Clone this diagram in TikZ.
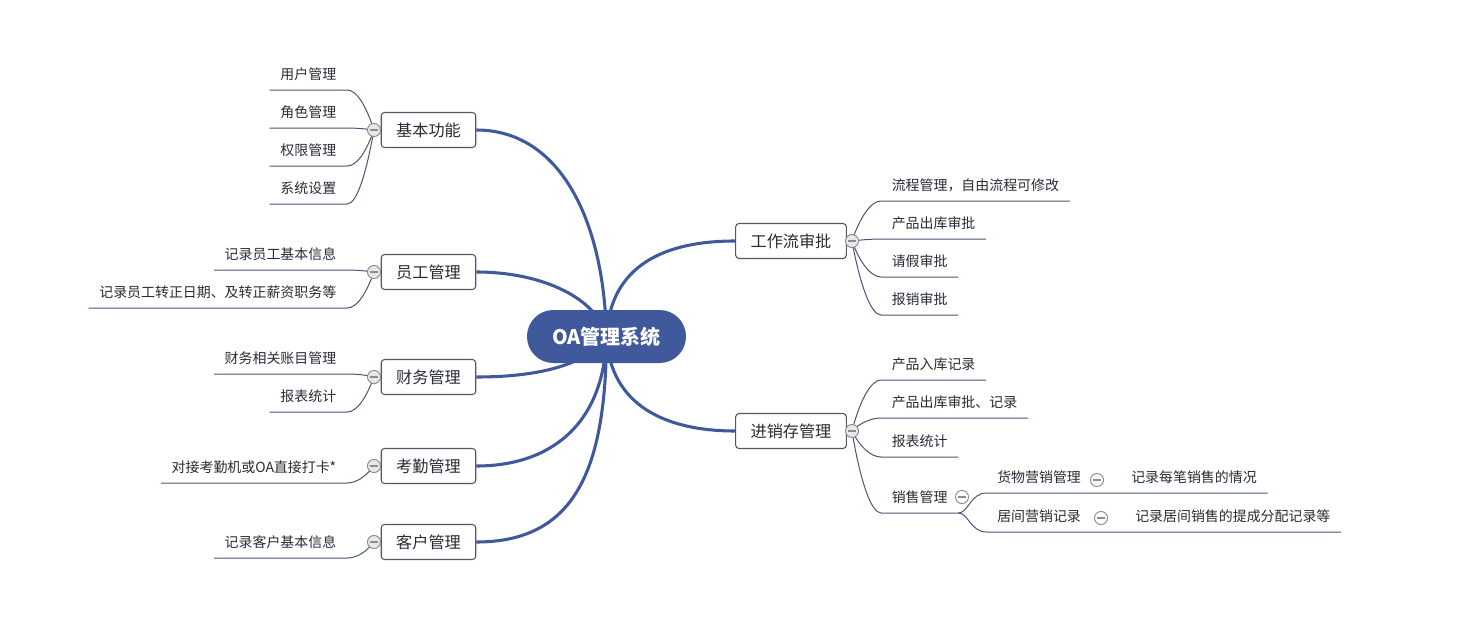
\documentclass[tikz,border=0pt]{standalone}
\usepackage{fontspec}
\setmainfont{Noto Sans CJK SC}
\pgfdeclarelayer{background}
\pgfsetlayers{background,main}
\definecolor{mainblue}{RGB}{64,88,156}
\definecolor{linec}{RGB}{72,86,116}
\definecolor{txtc}{RGB}{40,44,52}
\definecolor{boxc}{RGB}{80,88,104}
\definecolor{circc}{RGB}{140,140,140}
\begin{document}
\begin{tikzpicture}[x=0.75pt,y=-0.75pt,
 leaf/.style={font=\fontsize{10.45}{12}\selectfont, text=txtc, inner xsep=7.9pt, inner ysep=0pt, text height=9.5pt, text depth=7.6pt},
 lleaf/.style={leaf, anchor=south east},
 rleaf/.style={leaf, anchor=south west},
 branch/.style={draw=boxc, line width=0.8pt, fill=white, rounded corners=2.5pt, font=\fontsize{12.1}{14}\selectfont, text=txtc, inner xsep=11.25pt, inner ysep=0pt, minimum height=26.25pt},
 root/.style={fill=mainblue, rounded corners=19.8pt, minimum width=119.25pt, minimum height=39.75pt, text=white, font=\bfseries\fontsize{15}{18}\selectfont},
 fold/.style={circle, draw=circc, fill=gray!18, line width=0.7pt, minimum size=9.8pt, inner sep=0pt, path picture={\draw[circc, line width=0.9pt] ([xshift=-2.9pt]path picture bounding box.center) -- ([xshift=2.9pt]path picture bounding box.center);}},
 subfold/.style={fold, fill=white},
 mainline/.style={draw=mainblue, line width=2.3pt},
 leafline/.style={draw=linec, line width=0.75pt}
]
\useasboundingbox (0,0) rectangle (1465,639);

% root and branches
\node[root] (root) at (606.5,336.5) {OA管理系统};
\node[branch] (b1) at (428.5,130) {基本功能};
\node[branch] (b2) at (428.5,272) {员工管理};
\node[branch] (b3) at (428.5,377) {财务管理};
\node[branch] (b4) at (428.5,466) {考勤管理};
\node[branch] (b5) at (428.5,542) {客户管理};
\node[branch] (b6) at (791,241) {工作流审批};
\node[branch] (b7) at (791,431) {进销存管理};

% fold markers
\node[fold] (f1) at (374,130) {};
\node[fold] (f2) at (374,272) {};
\node[fold] (f3) at (374,377) {};
\node[fold] (f4) at (374,466) {};
\node[fold] (f5) at (374,542) {};
\node[fold] (f6) at (852,241) {};
\node[fold] (f7) at (852,431) {};
\node[subfold] (f8) at (962,497) {};
\node[subfold] (f9) at (1097,480) {};
\node[subfold] (f10) at (1101,518) {};

% left leaves
\node[lleaf] (l11) at (347,90) {用户管理};
\node[lleaf] (l12) at (347,128) {角色管理};
\node[lleaf] (l13) at (347,166) {权限管理};
\node[lleaf] (l14) at (347,204) {系统设置};
\node[lleaf] (l21) at (347,270) {记录员工基本信息};
\node[lleaf] (l22) at (347,308) {记录员工转正日期、及转正薪资职务等};
\node[lleaf] (l31) at (347,374) {财务相关账目管理};
\node[lleaf] (l32) at (347,412) {报表统计};
\node[lleaf] (l41) at (347,483) {对接考勤机或OA直接打卡*};
\node[lleaf] (l51) at (347,558) {记录客户基本信息};

% right leaves
\node[rleaf] (r11) at (881,201) {流程管理，自由流程可修改};
\node[rleaf] (r12) at (881,239) {产品出库审批};
\node[rleaf] (r13) at (881,277) {请假审批};
\node[rleaf] (r14) at (881,315) {报销审批};
\node[rleaf] (r21) at (881,380) {产品入库记录};
\node[rleaf] (r22) at (881,418) {产品出库审批、记录};
\node[rleaf] (r23) at (881,457) {报表统计};
\node[rleaf] (r24) at (881,513) {销售管理};
\node[rleaf] (s1) at (986.5,493) {货物营销管理};
\node[rleaf] (s1c) at (1120.5,493) {记录每笔销售的情况};
\node[rleaf] (s2) at (986.5,532) {居间营销记录};
\node[rleaf] (s2c) at (1124.5,532) {记录居间销售的提成分配记录等};

\begin{pgfonlayer}{background}
\fill[white] (0,0) rectangle (1465,639);
% main connectors
\draw[mainline] (root.center) .. controls (604,220) and (560,130) .. (b1.east);
\draw[mainline] (root.center) .. controls (598,300) and (545,272) .. (b2.east);
\draw[mainline] (root.center) .. controls (585,368) and (530,377) .. (b3.east);
\draw[mainline] (root.center) .. controls (604,425) and (550,466) .. (b4.east);
\draw[mainline] (root.center) .. controls (606,470) and (575,542) .. (b5.east);
\draw[mainline] (root.center) .. controls (610,265) and (665,241) .. (b6.west);
\draw[mainline] (root.center) .. controls (610,405) and (665,431) .. (b7.west);

% left leaf connectors
\draw[leafline] (f1.center) .. controls +(-8,-24) and +(10,0) .. (l11.south east) -- (l11.south west);
\draw[leafline] (f1.center) .. controls +(-8,-1) and +(10,0) .. (l12.south east) -- (l12.south west);
\draw[leafline] (f1.center) .. controls +(-8,22) and +(10,0) .. (l13.south east) -- (l13.south west);
\draw[leafline] (f1.center) .. controls +(-8,44) and +(10,0) .. (l14.south east) -- (l14.south west);
\draw[leafline] (f2.center) .. controls +(-8,-1) and +(10,0) .. (l21.south east) -- (l21.south west);
\draw[leafline] (f2.center) .. controls +(-8,22) and +(10,0) .. (l22.south east) -- (l22.south west);
\draw[leafline] (f3.center) .. controls +(-8,-2) and +(10,0) .. (l31.south east) -- (l31.south west);
\draw[leafline] (f3.center) .. controls +(-8,21) and +(10,0) .. (l32.south east) -- (l32.south west);
\draw[leafline] (f4.center) .. controls +(-8,10) and +(10,0) .. (l41.south east) -- (l41.south west);
\draw[leafline] (f5.center) .. controls +(-8,10) and +(10,0) .. (l51.south east) -- (l51.south west);

% right leaf connectors
\draw[leafline] (f6.center) .. controls +(8,-24) and +(-10,0) .. (r11.south west) -- (r11.south east);
\draw[leafline] (f6.center) .. controls +(8,-1) and +(-10,0) .. (r12.south west) -- (r12.south east);
\draw[leafline] (f6.center) .. controls +(8,22) and +(-10,0) .. (r13.south west) -- (r13.south east);
\draw[leafline] (f6.center) .. controls +(8,44) and +(-10,0) .. (r14.south west) -- (r14.south east);
\draw[leafline] (f7.center) .. controls +(8,-31) and +(-10,0) .. (r21.south west) -- (r21.south east);
\draw[leafline] (f7.center) .. controls +(8,-8) and +(-10,0) .. (r22.south west) -- (r22.south east);
\draw[leafline] (f7.center) .. controls +(8,16) and +(-10,0) .. (r23.south west) -- (r23.south east);
\draw[leafline] (f7.center) .. controls +(8,49) and +(-10,0) .. (r24.south west) -- (r24.south east);

% sales subtree
\draw[leafline] (r24.south east) .. controls +(10,0) and +(-16,0) .. (s1.south west) -- (s1.south east) -- (s1c.south west) -- (s1c.south east);
\draw[leafline] (r24.south east) .. controls +(10,0) and +(-16,0) .. (s2.south west) -- (s2.south east) -- (s2c.south west) -- (s2c.south east);
\end{pgfonlayer}
\end{tikzpicture}
\end{document}
